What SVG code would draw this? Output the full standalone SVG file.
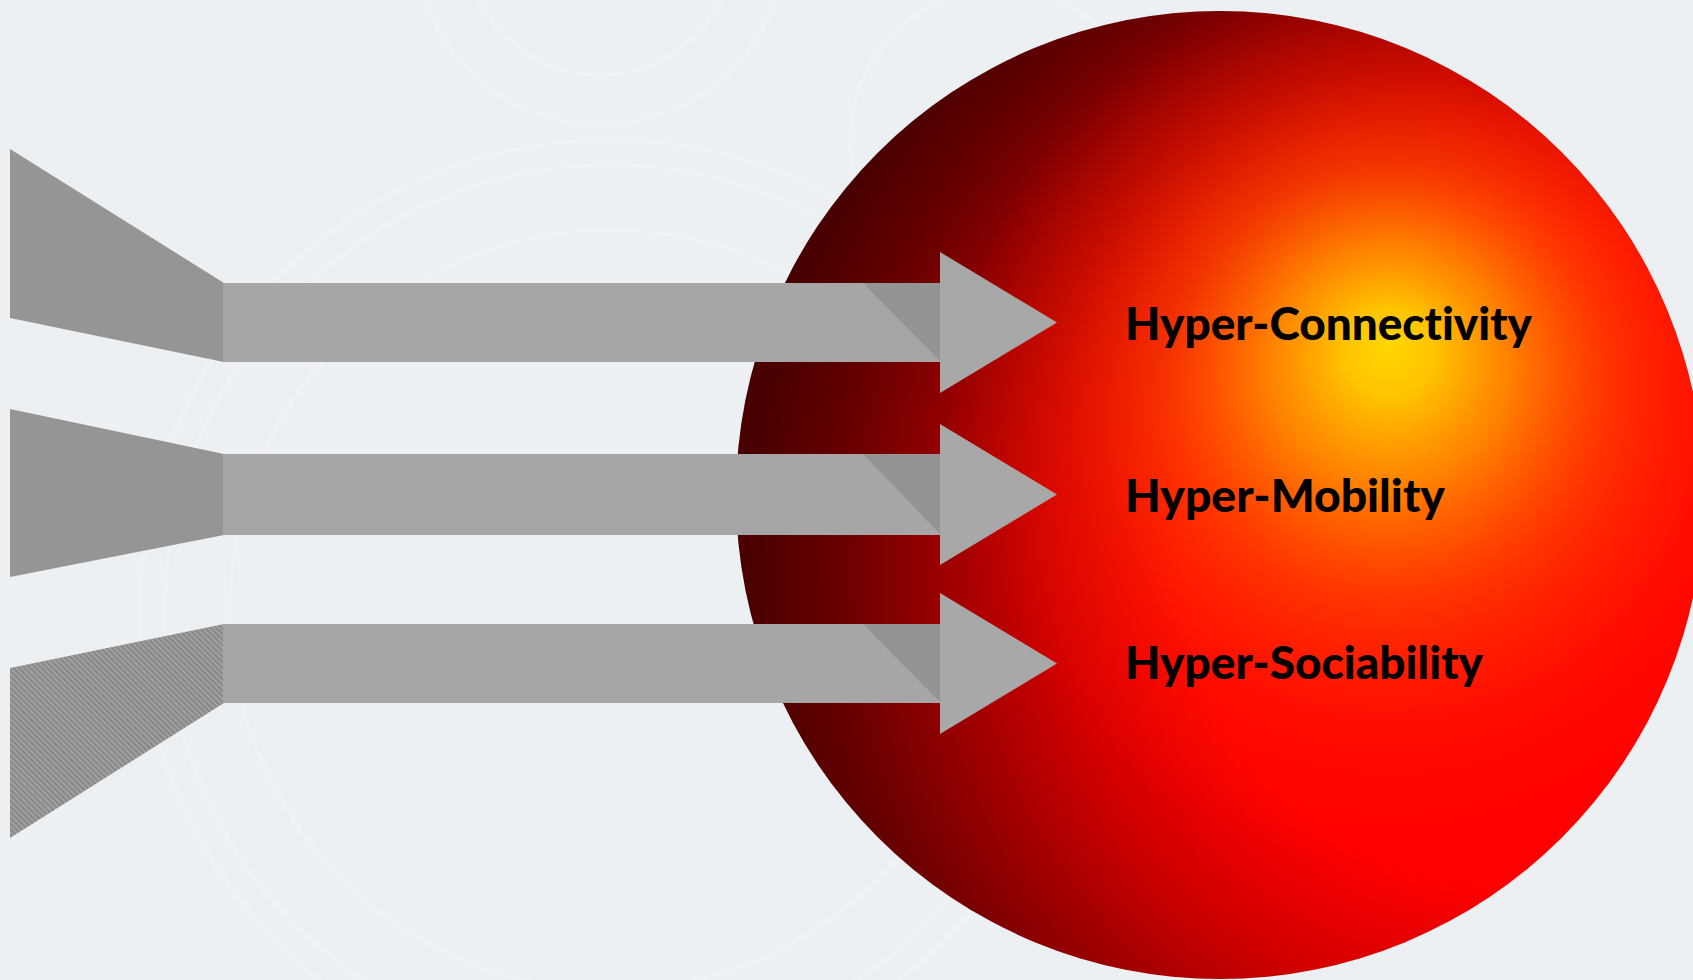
<svg xmlns="http://www.w3.org/2000/svg" width="1693" height="980" viewBox="0 0 1693 980">
  <defs>
    <radialGradient id="sphereBase" gradientUnits="userSpaceOnUse" cx="1500" cy="580" r="810" fx="1510" fy="540">
      <stop offset="0" stop-color="#ff0000"/>
      <stop offset="0.4" stop-color="#ff0000"/>
      <stop offset="0.55" stop-color="#d40000"/>
      <stop offset="0.7" stop-color="#980000"/>
      <stop offset="0.82" stop-color="#680000"/>
      <stop offset="0.92" stop-color="#4c0000"/>
      <stop offset="1" stop-color="#420000"/>
    </radialGradient>
    <radialGradient id="sphereGlow" gradientUnits="userSpaceOnUse" cx="1389" cy="420" r="440" fx="1389" fy="345">
      <stop offset="0" stop-color="#ffd700" stop-opacity="1"/>
      <stop offset="0.1" stop-color="#ffc400" stop-opacity="1"/>
      <stop offset="0.28" stop-color="#ff9000" stop-opacity="0.88"/>
      <stop offset="0.5" stop-color="#ff5500" stop-opacity="0.6"/>
      <stop offset="0.75" stop-color="#ff3000" stop-opacity="0.26"/>
      <stop offset="1" stop-color="#ff2000" stop-opacity="0"/>
    </radialGradient>
    <pattern id="hatch" patternUnits="userSpaceOnUse" width="4" height="4" patternTransform="rotate(-45)">
      <rect width="4" height="4" fill="#a0a0a0"/>
      <rect width="2" height="4" fill="#888888"/>
    </pattern>
  </defs>
  <style>
    .funnel { fill: #959595; }
    .shaft { fill: #a6a6a6; }
    .shade { fill: #949494; }
    .head { fill: #a8a8a8; }
    .ring { fill: none; stroke: #ffffff; stroke-opacity: 0.13; stroke-width: 4; }
    .label { font-family: Lato, "Open Sans", "Liberation Sans", sans-serif; font-weight: 900; font-size: 45px; fill: #000000; font-variant-ligatures: none; }
  </style>

  <rect width="1693" height="980" fill="#edf0f3"/>
  <g id="background-rings">
    <circle class="ring" cx="610" cy="610" r="470"/>
    <circle class="ring" cx="610" cy="610" r="445"/>
    <circle class="ring" cx="610" cy="610" r="380"/>
    <circle class="ring" cx="600" cy="-60" r="185"/>
    <circle class="ring" cx="600" cy="-60" r="135"/>
    <circle class="ring" cx="1000" cy="140" r="150"/>
  </g>

  <g id="sphere">
    <circle cx="1220" cy="495" r="484" fill="url(#sphereBase)"/>
    <circle cx="1220" cy="495" r="484" fill="url(#sphereGlow)"/>
  </g>

  <g id="connectors">
    <g id="arrow1">
      <polygon class="funnel" points="10,149 224,283 224,362 10,318"/>
      <rect class="shaft" x="223" y="283" width="718" height="79"/>
      <polygon class="shade" points="863,283 941,283 941,362"/>
      <polygon class="head" points="940,252 1057,322.5 940,393"/>
    </g>
    <g id="arrow2">
      <polygon class="funnel" points="10,409 224,454 224,535 10,577"/>
      <rect class="shaft" x="223" y="454" width="718" height="81"/>
      <polygon class="shade" points="863,454 941,454 941,535"/>
      <polygon class="head" points="940,424 1057,494.5 940,565"/>
    </g>
    <g id="arrow3">
      <polygon points="10,668 224,624 224,703 10,838" fill="url(#hatch)"/>
      <rect class="shaft" x="223" y="624" width="718" height="79"/>
      <polygon class="shade" points="863,624 941,624 941,703"/>
      <polygon class="head" points="940,593 1057,663.5 940,734"/>
    </g>
  </g>

  <g id="label-connectivity">
    <text class="label" x="1125" y="340" textLength="407" lengthAdjust="spacingAndGlyphs">Hyper-Connectivity</text>
  </g>
  <g id="label-mobility">
    <text class="label" x="1125" y="512" textLength="320" lengthAdjust="spacingAndGlyphs">Hyper-Mobility</text>
  </g>
  <g id="label-sociability">
    <text class="label" x="1125" y="679" textLength="358" lengthAdjust="spacingAndGlyphs">Hyper-Sociability</text>
  </g>
</svg>
